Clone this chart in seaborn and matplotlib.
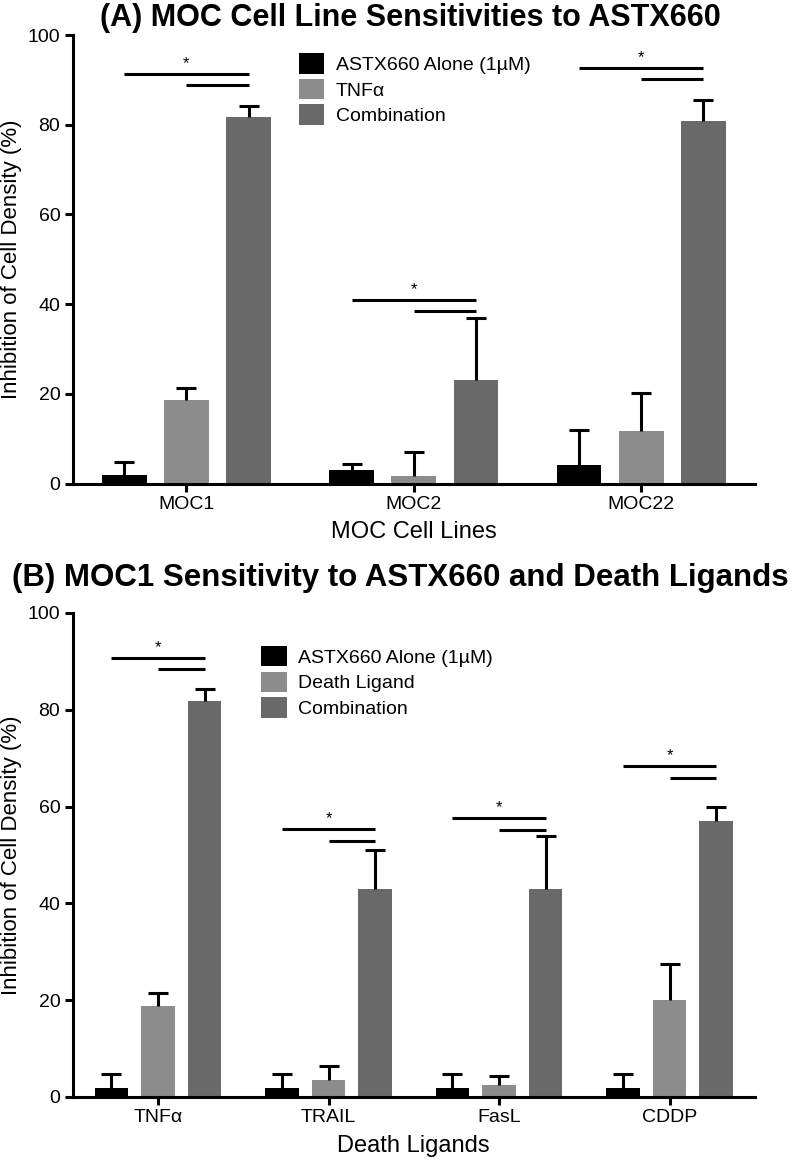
import matplotlib
matplotlib.use("Agg")
import matplotlib.pyplot as plt
import seaborn as sns
import pandas as pd
import numpy as np
from matplotlib import font_manager
from matplotlib.patches import Patch

# ---------------- data ----------------
series_a = ["ASTX660 Alone (1µM)", "TNFα", "Combination"]
cats_a = ["MOC1", "MOC2", "MOC22"]
astx_a = [1.9, 3.0, 4.2]
astx_a_err = [4.7, 4.3, 12.0]
tnf_a = [18.7, 1.7, 11.7]
tnf_a_err = [21.4, 7.1, 20.2]
combo_a = [81.8, 23.0, 80.8]
combo_a_err = [84.2, 36.8, 85.5]
sig_a_long = [91.3, 41.0, 92.6]
sig_a_short = [88.9, 38.5, 90.2]

series_b = ["ASTX660 Alone (1µM)", "Death Ligand", "Combination"]
cats_b = ["TNFα", "TRAIL", "FasL", "CDDP"]
astx_b = [1.9, 1.9, 1.9, 1.9]
astx_b_err = [4.8, 4.8, 4.8, 4.8]
dl_b = [18.7, 3.6, 2.5, 20.0]
dl_b_err = [21.5, 6.5, 4.3, 27.4]
combo_b = [81.8, 43.0, 43.0, 57.0]
combo_b_err = [84.2, 51.0, 54.0, 60.0]
sig_b_long = [90.6, 55.3, 57.6, 68.3]
sig_b_short = [88.4, 52.8, 55.2, 65.9]

colors = ["#000000", "#8c8c8c", "#696969"]

sns.set_theme(style="ticks")
names = {f.name for f in font_manager.fontManager.ttflist}
fam = "Liberation Sans Narrow" if "Liberation Sans Narrow" in names else "Liberation Sans"
plt.rcParams["font.family"] = [fam, "DejaVu Sans"]
plt.rcParams.update({"text.color": "black", "axes.labelcolor": "black",
                     "xtick.color": "black", "ytick.color": "black"})

fig = plt.figure(figsize=(8, 11.68), dpi=100)
axA = fig.add_axes([0.091, 0.586, 0.8525, 0.384])
axB = fig.add_axes([0.091, 0.0608, 0.8525, 0.4144])


def panel(ax, cats, series, vals, errs, sig_long, sig_short, xlabel, leg_anchor):
    rows = []
    for s, v in zip(series, vals):
        for c, y in zip(cats, v):
            rows.append({"cat": c, "series": s, "val": y})
    df = pd.DataFrame(rows)
    sns.barplot(data=df, x="cat", y="val", hue="series", order=cats, hue_order=series,
                palette=colors, width=0.82, gap=0.28, errorbar=None, ax=ax,
                saturation=1, edgecolor="none", legend=False)
    centers = []
    for i, (s, v, e) in enumerate(zip(series, vals, errs)):
        cont = ax.containers[i]
        xs = [p.get_x() + p.get_width() / 2 for p in cont.patches]
        centers.append(xs)
        v = np.array(v); e = np.array(e)
        eb = ax.errorbar(xs, v, yerr=[np.zeros_like(v), e - v], fmt="none", ecolor="black",
                         elinewidth=2.2, capsize=7, capthick=2.2, zorder=3)
        eb[1][0].set_visible(False)  # hide lower caps
    for j in range(len(cats)):
        x0, x1, x2 = centers[0][j], centers[1][j], centers[2][j]
        ax.plot([x0, x2], [sig_long[j], sig_long[j]], color="black", lw=2.2, solid_capstyle="butt")
        ax.plot([x1, x2], [sig_short[j], sig_short[j]], color="black", lw=2.2, solid_capstyle="butt")
        ax.text(x1, sig_long[j] + 0.6, "*", ha="center", va="bottom", fontsize=12)
    ax.set_xlim(-0.5, len(cats) - 0.5)
    ax.set_ylim(0, 100)
    ax.set_yticks([0, 20, 40, 60, 80, 100])
    sns.despine(ax=ax)
    for sp in ["left", "bottom"]:
        ax.spines[sp].set_linewidth(2.2)
        ax.spines[sp].set_color("black")
    ax.tick_params(axis="both", width=2.2, length=6, color="black", labelcolor="black",
                   labelsize=14, pad=3)
    ax.set_xlabel(xlabel, fontsize=17, labelpad=6)
    ax.set_ylabel("Inhibition of Cell Density (%)", fontsize=16, labelpad=4)
    handles = [Patch(facecolor=c, edgecolor="none") for c in colors]
    ax.legend(handles, series, loc="upper left", bbox_to_anchor=leg_anchor, frameon=False,
              fontsize=14, handlelength=1.3, handleheight=1.25, handletextpad=0.6,
              labelspacing=0.25, borderaxespad=0)


panel(axA, cats_a, series_a, [astx_a, tnf_a, combo_a], [astx_a_err, tnf_a_err, combo_a_err],
      sig_a_long, sig_a_short, "MOC Cell Lines", (0.32, 0.977))
panel(axB, cats_b, series_b, [astx_b, dl_b, combo_b], [astx_b_err, dl_b_err, combo_b_err],
      sig_b_long, sig_b_short, "Death Ligands", (0.265, 0.948))

fig.text(0.513, 1 - 18 / 1168, "(A) MOC Cell Line Sensitivities to ASTX660",
         ha="center", va="center", fontsize=22, fontweight="bold")
fig.text(0.5, 1 - 578 / 1168, "(B) MOC1 Sensitivity to ASTX660 and Death Ligands",
         ha="center", va="center", fontsize=22.5, fontweight="bold")

fig.savefig("out.png", dpi=100, facecolor="white")
